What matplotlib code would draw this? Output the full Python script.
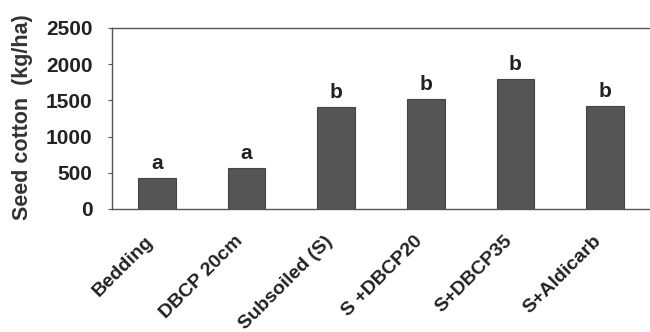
import matplotlib
matplotlib.use("Agg")
import matplotlib.pyplot as plt
import numpy as np

categories = ["Bedding", "DBCP 20cm", "Subsoiled (S)", "S +DBCP20", "S+DBCP35", "S+Aldicarb"]
yield_kg = [435, 570, 1410, 1520, 1795, 1425]
groups = ["a", "a", "b", "b", "b", "b"]
yticks = [0, 500, 1000, 1500, 2000, 2500]

plt.rcParams['font.family'] = ['Liberation Sans', 'DejaVu Sans']
plt.rcParams['font.weight'] = 'bold'

fig = plt.figure(figsize=(6.5, 3.32), dpi=100)
ax = fig.add_axes([112/650, 1-209/332, 1-112/650, (209-28)/332])

x = np.arange(len(categories))
ax.bar(x, yield_kg, width=0.42, color='#555555', edgecolor='#444444', linewidth=0.8, zorder=2)
for xi, v, g in zip(x, yield_kg, groups):
    ax.annotate(g, (xi, v), xytext=(0, 3.5), textcoords='offset points',
                ha='center', va='bottom', fontsize=15, fontweight='bold', color='#222222')

ax.set_xlim(-0.5, len(categories) - 0.5)
ax.set_ylim(0, 2500)
ax.set_yticks(yticks)
ax.set_yticklabels([str(t) for t in yticks], fontsize=15, fontweight='bold', color='#222222')
ax.tick_params(axis='y', length=3, width=0.8, pad=11, color='#555555')

ax.set_xticks(x)
ax.set_xticklabels(categories, rotation=45, ha='right', fontsize=14, fontweight='bold', color='#222222')
ax.tick_params(axis='x', length=0, pad=17)

ax.spines['right'].set_visible(False)
for s in ['top', 'left', 'bottom']:
    ax.spines[s].set_color('#555555')
    ax.spines[s].set_linewidth(1.0)

fig.text(23/650, 1-117/332, "Seed cotton  (kg/ha)", rotation=90, ha='center', va='center',
         fontsize=15.5, fontweight='bold', color='#333333')

fig.savefig("out.png", dpi=100)
